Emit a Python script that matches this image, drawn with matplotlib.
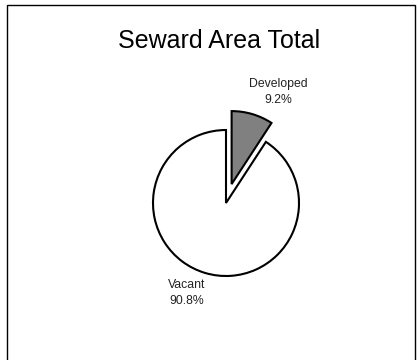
import matplotlib.pyplot as plt
from matplotlib.patches import Rectangle

plt.rcParams['font.family'] = ['Liberation Sans', 'DejaVu Sans']

# ----- Data -----
categories = ["Developed", "Vacant"]
shares = [9.2, 90.8]
colors = ["#808080", "#ffffff"]
explode = [0.27, 0.0]

W, H = 418, 360
fig = plt.figure(figsize=(W / 100, H / 100), dpi=100)

# pie axes: centre at (226, 203) px from top-left, radius ~73 px
cx, cy, r = 226, 203, 73
ax = fig.add_axes([(cx - 2 * r) / W, (H - cy - 2 * r) / H, 4 * r / W, 4 * r / H])
ax.pie(shares, colors=colors, explode=explode, startangle=90, counterclock=False,
       radius=1, wedgeprops=dict(edgecolor="black", linewidth=1.5))
ax.set_xlim(-2, 2)
ax.set_ylim(-2, 2)
ax.set_aspect("equal")
ax.axis("off")

# labels (pixel positions from top-left)
label_pos = [(278, 92), (187, 293)]
for name, val, (lx, ly) in zip(categories, shares, label_pos):
    fig.text(lx / W, 1 - ly / H, f"{name}\n{val}%", ha="center", va="center",
             fontsize=8.8, color="#222222", linespacing=1.35)

fig.text(219 / W, 1 - 41 / H, "Seward Area Total", ha="center", va="center", fontsize=18)

# outer frame
fig.add_artist(Rectangle((7 / W, -0.05), 408 / W, 1.05 - 5 / H, transform=fig.transFigure,
                         fill=False, edgecolor="black", linewidth=1))

fig.savefig("out.png", dpi=100)
